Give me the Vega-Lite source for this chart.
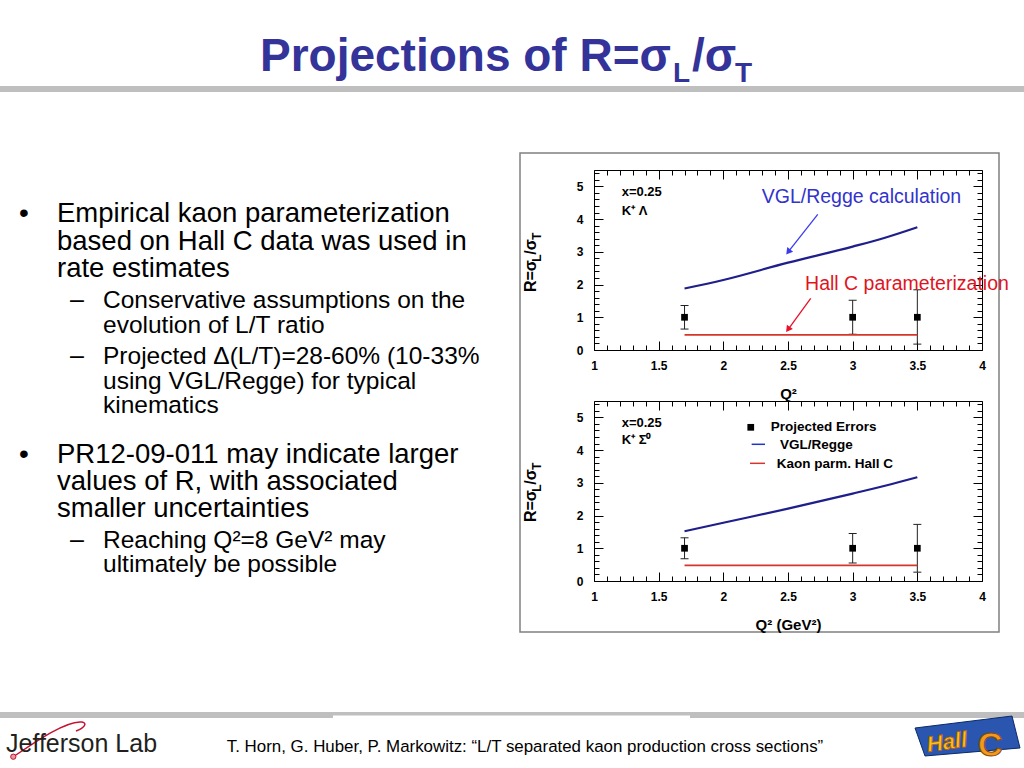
{
  "$schema": "https://vega.github.io/schema/vega-lite/v6.json",
  "padding": 0,
  "background": "white",
  "columns": 2,
  "align": "each",
  "bounds": "flush",
  "spacing": {"row": 51, "column": 0},
  "config": {
    "view": {"stroke": null},
    "text": {"font": "Liberation Sans"},
    "axis": {"labelFont": "Liberation Sans", "titleFont": "Liberation Sans"}
  },
  "datasets": {
    "pts1": [
      {"q2": 1.7, "r": 1, "lo": 0.64, "hi": 1.36},
      {"q2": 3.0, "r": 1, "lo": 0.48, "hi": 1.52},
      {"q2": 3.5, "r": 1, "lo": 0.18, "hi": 1.84}
    ],
    "vgl1": [
      {"q2": 1.7, "r": 1.88},
      {"q2": 2.0, "r": 2.14},
      {"q2": 2.5, "r": 2.67},
      {"q2": 3.0, "r": 3.16},
      {"q2": 3.25, "r": 3.43},
      {"q2": 3.5, "r": 3.75}
    ],
    "hc1": [
      {"q2": 1.7, "r": 0.46},
      {"q2": 3.5, "r": 0.46}
    ],
    "pts2": [
      {"q2": 1.7, "r": 1, "lo": 0.68, "hi": 1.32},
      {"q2": 3.0, "r": 1, "lo": 0.55, "hi": 1.45},
      {"q2": 3.5, "r": 1, "lo": 0.27, "hi": 1.73}
    ],
    "vgl2": [
      {"q2": 1.7, "r": 1.52},
      {"q2": 2.0, "r": 1.78},
      {"q2": 2.5, "r": 2.21},
      {"q2": 3.0, "r": 2.67},
      {"q2": 3.25, "r": 2.91},
      {"q2": 3.5, "r": 3.17}
    ],
    "hc2": [
      {"q2": 1.7, "r": 0.48},
      {"q2": 3.5, "r": 0.48}
    ]
  },
  "concat": [
    {
      "width": 594,
      "height": 180,
      "data": {"values": [{}]},
      "layer": [
        {"mark": {"type": "rect", "fill": "white"},
         "encoding": {"x": {"datum": 0, "type": "quantitative", "scale": {"domain": [0, 594], "nice": false, "zero": false}, "axis": null},
                      "x2": {"datum": 1024},
                      "y": {"datum": 0, "type": "quantitative", "scale": {"domain": [170, 350], "reverse": true, "nice": false, "zero": false}, "axis": null},
                      "y2": {"datum": 768}}},
        {"mark": {"type": "rect", "fill": "#bfbfbf"},
         "encoding": {"x": {"datum": 0, "type": "quantitative", "scale": {"domain": [0, 594], "nice": false, "zero": false}, "axis": null},
                      "x2": {"datum": 1024},
                      "y": {"datum": 86, "type": "quantitative", "scale": {"domain": [170, 350], "reverse": true, "nice": false, "zero": false}, "axis": null},
                      "y2": {"datum": 92}}},
        {"mark": {"type": "text", "text": "Projections of R=σ", "align": "right", "baseline": "alphabetic", "fontSize": 46, "fontWeight": "bold", "color": "#333399"},
         "encoding": {"x": {"datum": 671, "type": "quantitative", "scale": {"domain": [0, 594], "nice": false, "zero": false}, "axis": null},
                      "y": {"datum": 71, "type": "quantitative", "scale": {"domain": [170, 350], "reverse": true, "nice": false, "zero": false}, "axis": null}}},
        {"mark": {"type": "text", "text": "L", "align": "left", "baseline": "alphabetic", "fontSize": 28, "fontWeight": "bold", "color": "#333399"},
         "encoding": {"x": {"datum": 673, "type": "quantitative", "scale": {"domain": [0, 594], "nice": false, "zero": false}, "axis": null},
                      "y": {"datum": 82, "type": "quantitative", "scale": {"domain": [170, 350], "reverse": true, "nice": false, "zero": false}, "axis": null}}},
        {"mark": {"type": "text", "text": "/σ", "align": "left", "baseline": "alphabetic", "fontSize": 46, "fontWeight": "bold", "color": "#333399"},
         "encoding": {"x": {"datum": 692, "type": "quantitative", "scale": {"domain": [0, 594], "nice": false, "zero": false}, "axis": null},
                      "y": {"datum": 71, "type": "quantitative", "scale": {"domain": [170, 350], "reverse": true, "nice": false, "zero": false}, "axis": null}}},
        {"mark": {"type": "text", "text": "T", "align": "left", "baseline": "alphabetic", "fontSize": 28, "fontWeight": "bold", "color": "#333399"},
         "encoding": {"x": {"datum": 735, "type": "quantitative", "scale": {"domain": [0, 594], "nice": false, "zero": false}, "axis": null},
                      "y": {"datum": 82, "type": "quantitative", "scale": {"domain": [170, 350], "reverse": true, "nice": false, "zero": false}, "axis": null}}},
        {"mark": {"type": "text", "text": "•", "align": "left", "baseline": "alphabetic", "fontSize": 28, "color": "black"},
         "encoding": {"x": {"datum": 19, "type": "quantitative", "scale": {"domain": [0, 594], "nice": false, "zero": false}, "axis": null},
                      "y": {"datum": 222, "type": "quantitative", "scale": {"domain": [170, 350], "reverse": true, "nice": false, "zero": false}, "axis": null}}},
        {"mark": {"type": "text", "text": ["Empirical kaon parameterization", "based on Hall C data was used in", "rate estimates"], "align": "left", "baseline": "alphabetic", "fontSize": 27.5, "lineHeight": 27.5, "color": "black"},
         "encoding": {"x": {"datum": 57, "type": "quantitative", "scale": {"domain": [0, 594], "nice": false, "zero": false}, "axis": null},
                      "y": {"datum": 222, "type": "quantitative", "scale": {"domain": [170, 350], "reverse": true, "nice": false, "zero": false}, "axis": null}}},
        {"mark": {"type": "text", "text": "–", "align": "left", "baseline": "alphabetic", "fontSize": 25, "color": "black"},
         "encoding": {"x": {"datum": 70, "type": "quantitative", "scale": {"domain": [0, 594], "nice": false, "zero": false}, "axis": null},
                      "y": {"datum": 308, "type": "quantitative", "scale": {"domain": [170, 350], "reverse": true, "nice": false, "zero": false}, "axis": null}}},
        {"mark": {"type": "text", "text": ["Conservative assumptions on the", "evolution of L/T ratio"], "align": "left", "baseline": "alphabetic", "fontSize": 24.5, "lineHeight": 24.5, "color": "black"},
         "encoding": {"x": {"datum": 103, "type": "quantitative", "scale": {"domain": [0, 594], "nice": false, "zero": false}, "axis": null},
                      "y": {"datum": 308, "type": "quantitative", "scale": {"domain": [170, 350], "reverse": true, "nice": false, "zero": false}, "axis": null}}},
        {"mark": {"type": "text", "text": "–", "align": "left", "baseline": "alphabetic", "fontSize": 25, "color": "black"},
         "encoding": {"x": {"datum": 70, "type": "quantitative", "scale": {"domain": [0, 594], "nice": false, "zero": false}, "axis": null},
                      "y": {"datum": 364, "type": "quantitative", "scale": {"domain": [170, 350], "reverse": true, "nice": false, "zero": false}, "axis": null}}},
        {"mark": {"type": "text", "text": ["Projected Δ(L/T)=28-60% (10-33%", "using VGL/Regge) for typical", "kinematics"], "align": "left", "baseline": "alphabetic", "fontSize": 24.5, "lineHeight": 24.5, "color": "black"},
         "encoding": {"x": {"datum": 103, "type": "quantitative", "scale": {"domain": [0, 594], "nice": false, "zero": false}, "axis": null},
                      "y": {"datum": 364, "type": "quantitative", "scale": {"domain": [170, 350], "reverse": true, "nice": false, "zero": false}, "axis": null}}},
        {"mark": {"type": "text", "text": "•", "align": "left", "baseline": "alphabetic", "fontSize": 28, "color": "black"},
         "encoding": {"x": {"datum": 19, "type": "quantitative", "scale": {"domain": [0, 594], "nice": false, "zero": false}, "axis": null},
                      "y": {"datum": 463, "type": "quantitative", "scale": {"domain": [170, 350], "reverse": true, "nice": false, "zero": false}, "axis": null}}},
        {"mark": {"type": "text", "text": ["PR12-09-011 may indicate larger", "values of R, with associated", "smaller uncertainties"], "align": "left", "baseline": "alphabetic", "fontSize": 27.5, "lineHeight": 27, "color": "black"},
         "encoding": {"x": {"datum": 57, "type": "quantitative", "scale": {"domain": [0, 594], "nice": false, "zero": false}, "axis": null},
                      "y": {"datum": 463, "type": "quantitative", "scale": {"domain": [170, 350], "reverse": true, "nice": false, "zero": false}, "axis": null}}},
        {"mark": {"type": "text", "text": "–", "align": "left", "baseline": "alphabetic", "fontSize": 25, "color": "black"},
         "encoding": {"x": {"datum": 70, "type": "quantitative", "scale": {"domain": [0, 594], "nice": false, "zero": false}, "axis": null},
                      "y": {"datum": 548, "type": "quantitative", "scale": {"domain": [170, 350], "reverse": true, "nice": false, "zero": false}, "axis": null}}},
        {"mark": {"type": "text", "text": ["Reaching Q²=8 GeV² may", "ultimately be possible"], "align": "left", "baseline": "alphabetic", "fontSize": 24.5, "lineHeight": 24, "color": "black"},
         "encoding": {"x": {"datum": 103, "type": "quantitative", "scale": {"domain": [0, 594], "nice": false, "zero": false}, "axis": null},
                      "y": {"datum": 548, "type": "quantitative", "scale": {"domain": [170, 350], "reverse": true, "nice": false, "zero": false}, "axis": null}}},
        {"mark": {"type": "rect", "fillOpacity": 0, "stroke": "#808080", "strokeWidth": 1.5},
         "encoding": {"x": {"datum": 520, "type": "quantitative", "scale": {"domain": [0, 594], "nice": false, "zero": false}, "axis": null},
                      "x2": {"datum": 999},
                      "y": {"datum": 153, "type": "quantitative", "scale": {"domain": [170, 350], "reverse": true, "nice": false, "zero": false}, "axis": null},
                      "y2": {"datum": 632}}},
        {"mark": {"type": "rect", "fill": "#bfbfbf"},
         "encoding": {"x": {"datum": 0, "type": "quantitative", "scale": {"domain": [0, 594], "nice": false, "zero": false}, "axis": null},
                      "x2": {"datum": 1024},
                      "y": {"datum": 712, "type": "quantitative", "scale": {"domain": [170, 350], "reverse": true, "nice": false, "zero": false}, "axis": null},
                      "y2": {"datum": 718}}},
        {"mark": {"type": "rect", "fill": "white"},
         "encoding": {"x": {"datum": 333, "type": "quantitative", "scale": {"domain": [0, 594], "nice": false, "zero": false}, "axis": null},
                      "x2": {"datum": 690},
                      "y": {"datum": 715.5, "type": "quantitative", "scale": {"domain": [170, 350], "reverse": true, "nice": false, "zero": false}, "axis": null},
                      "y2": {"datum": 718.5}}},
        {"mark": {"type": "point", "shape": "M-0.875,0.425C-0.4,0.1,0.45,-0.5,0.85,-0.45C1,-0.42,0.9,-0.3,0.7,-0.225", "size": 6400, "filled": false, "color": "#c41230", "strokeWidth": 1.5, "opacity": 1},
         "encoding": {"x": {"datum": 48, "type": "quantitative", "scale": {"domain": [0, 594], "nice": false, "zero": false}, "axis": null},
                      "y": {"datum": 740, "type": "quantitative", "scale": {"domain": [170, 350], "reverse": true, "nice": false, "zero": false}, "axis": null}}},
        {"mark": {"type": "point", "shape": "circle", "size": 28, "filled": true, "color": "#e39a9a", "stroke": "#c41230", "strokeWidth": 1, "opacity": 1},
         "encoding": {"x": {"datum": 13.3, "type": "quantitative", "scale": {"domain": [0, 594], "nice": false, "zero": false}, "axis": null},
                      "y": {"datum": 756.7, "type": "quantitative", "scale": {"domain": [170, 350], "reverse": true, "nice": false, "zero": false}, "axis": null}}},
        {"mark": {"type": "text", "text": "Jefferson Lab", "align": "left", "baseline": "alphabetic", "fontSize": 25, "color": "#231f20"},
         "encoding": {"x": {"datum": 6, "type": "quantitative", "scale": {"domain": [0, 594], "nice": false, "zero": false}, "axis": null},
                      "y": {"datum": 752, "type": "quantitative", "scale": {"domain": [170, 350], "reverse": true, "nice": false, "zero": false}, "axis": null}}},
        {"mark": {"type": "text", "text": "T. Horn, G. Huber, P. Markowitz: “L/T separated kaon production cross sections”", "align": "center", "baseline": "alphabetic", "fontSize": 16.9, "color": "black"},
         "encoding": {"x": {"datum": 525, "type": "quantitative", "scale": {"domain": [0, 594], "nice": false, "zero": false}, "axis": null},
                      "y": {"datum": 752, "type": "quantitative", "scale": {"domain": [170, 350], "reverse": true, "nice": false, "zero": false}, "axis": null}}},
        {"mark": {"type": "point", "shape": "M-0.944,-0.185L0.852,-0.407L1,0.185L-0.759,0.333Z", "size": 11664, "filled": true, "color": "#2a56b0", "stroke": "#0c2a66", "strokeWidth": 1, "opacity": 1},
         "encoding": {"x": {"datum": 966, "type": "quantitative", "scale": {"domain": [0, 594], "nice": false, "zero": false}, "axis": null},
                      "y": {"datum": 738, "type": "quantitative", "scale": {"domain": [170, 350], "reverse": true, "nice": false, "zero": false}, "axis": null}}},
        {"mark": {"type": "text", "text": "Hall", "align": "left", "baseline": "alphabetic", "fontSize": 22, "fontWeight": "bold", "fontStyle": "italic", "angle": -8, "color": "#f8c21c", "stroke": "#b85c08", "strokeWidth": 0.8},
         "encoding": {"x": {"datum": 928, "type": "quantitative", "scale": {"domain": [0, 594], "nice": false, "zero": false}, "axis": null},
                      "y": {"datum": 752, "type": "quantitative", "scale": {"domain": [170, 350], "reverse": true, "nice": false, "zero": false}, "axis": null}}},
        {"mark": {"type": "text", "text": "C", "align": "left", "baseline": "alphabetic", "fontSize": 34, "fontWeight": "bold", "color": "#f39a1c", "stroke": "#8a4a06", "strokeWidth": 1},
         "encoding": {"x": {"datum": 978, "type": "quantitative", "scale": {"domain": [0, 594], "nice": false, "zero": false}, "axis": null},
                      "y": {"datum": 756, "type": "quantitative", "scale": {"domain": [170, 350], "reverse": true, "nice": false, "zero": false}, "axis": null}}}
      ]
    },
    {
      "width": 388,
      "height": 180,
      "view": {"stroke": "black", "strokeWidth": 1},
      "resolve": {"axis": {"x": "independent", "y": "independent"}},
      "layer": [
        {
          "layer": [
            {"data": {"name": "pts1"},
             "mark": {"type": "rule", "color": "#222222", "strokeWidth": 1},
             "encoding": {
               "x": {"field": "q2", "type": "quantitative", "scale": {"domain": [1, 4], "nice": false, "zero": false},
                     "axis": {"orient": "bottom", "tickCount": 200, "values": [1,1.1,1.2,1.3,1.4,1.5,1.6,1.7,1.8,1.9,2,2.1,2.2,2.3,2.4,2.5,2.6,2.7,2.8,2.9,3,3.1,3.2,3.3,3.4,3.5,3.6,3.7,3.8,3.9,4],
                              "labelExpr": "abs(datum.value*2-round(datum.value*2))<0.01 ? format(datum.value,'.1~f') : ''",
                              "tickSize": {"condition": {"test": "abs(datum.value*2-round(datum.value*2))<0.01", "value": -9}, "value": -5},
                              "tickColor": "black", "tickWidth": 1, "labelPadding": 19, "labelFlush": false, "labelOverlap": false, "labelBound": false,
                              "labelFontSize": 12, "labelFontWeight": "bold", "labelColor": "black", "domain": false, "grid": false,
                              "title": "Q²", "titleFontSize": 15, "titleFontWeight": "bold", "titleColor": "black", "titlePadding": 11}},
               "y": {"field": "lo", "type": "quantitative", "scale": {"domain": [0, 5.5], "nice": false, "zero": false},
                     "axis": {"orient": "left", "tickCount": 200, "values": [0,0.2,0.4,0.6,0.8,1,1.2,1.4,1.6,1.8,2,2.2,2.4,2.6,2.8,3,3.2,3.4,3.6,3.8,4,4.2,4.4,4.6,4.8,5,5.2,5.4],
                              "labelExpr": "abs(datum.value-round(datum.value))<0.01 ? format(datum.value,'d') : ''",
                              "tickSize": {"condition": {"test": "abs(datum.value-round(datum.value))<0.01", "value": -9}, "value": -5},
                              "tickColor": "black", "tickWidth": 1, "labelPadding": 20, "labelFlush": false, "labelOverlap": false, "labelBound": false,
                              "labelFontSize": 12, "labelFontWeight": "bold", "labelColor": "black", "domain": false, "grid": false, "title": null}},
               "y2": {"field": "hi"}}},
            {"data": {"name": "pts1"},
             "mark": {"type": "tick", "orient": "horizontal", "size": 8, "thickness": 1, "color": "#222222", "opacity": 1},
             "encoding": {"x": {"field": "q2", "type": "quantitative", "scale": {"domain": [1, 4], "nice": false, "zero": false}},
                          "y": {"field": "lo", "type": "quantitative", "scale": {"domain": [0, 5.5], "nice": false, "zero": false}}}},
            {"data": {"name": "pts1"},
             "mark": {"type": "tick", "orient": "horizontal", "size": 8, "thickness": 1, "color": "#222222", "opacity": 1},
             "encoding": {"x": {"field": "q2", "type": "quantitative", "scale": {"domain": [1, 4], "nice": false, "zero": false}},
                          "y": {"field": "hi", "type": "quantitative", "scale": {"domain": [0, 5.5], "nice": false, "zero": false}}}},
            {"data": {"name": "hc1"},
             "mark": {"type": "line", "color": "#d8352a", "strokeWidth": 1.8},
             "encoding": {"x": {"field": "q2", "type": "quantitative", "scale": {"domain": [1, 4], "nice": false, "zero": false}},
                          "y": {"field": "r", "type": "quantitative", "scale": {"domain": [0, 5.5], "nice": false, "zero": false}}}},
            {"data": {"name": "vgl1"},
             "mark": {"type": "line", "color": "#1e1e8c", "strokeWidth": 2.2, "interpolate": "monotone"},
             "encoding": {"x": {"field": "q2", "type": "quantitative", "scale": {"domain": [1, 4], "nice": false, "zero": false}},
                          "y": {"field": "r", "type": "quantitative", "scale": {"domain": [0, 5.5], "nice": false, "zero": false}}}},
            {"data": {"name": "pts1"},
             "mark": {"type": "point", "shape": "square", "filled": true, "color": "black", "size": 45, "opacity": 1},
             "encoding": {"x": {"field": "q2", "type": "quantitative", "scale": {"domain": [1, 4], "nice": false, "zero": false}},
                          "y": {"field": "r", "type": "quantitative", "scale": {"domain": [0, 5.5], "nice": false, "zero": false}}}},
            {"data": {"values": [{}]},
             "mark": {"type": "text", "text": "x=0.25", "align": "left", "baseline": "middle", "fontSize": 13, "fontWeight": "bold", "color": "black"},
             "encoding": {"x": {"datum": 1.214, "type": "quantitative", "scale": {"domain": [1, 4], "nice": false, "zero": false}},
                          "y": {"datum": 4.84, "type": "quantitative", "scale": {"domain": [0, 5.5], "nice": false, "zero": false}}}},
            {"data": {"values": [{}]},
             "mark": {"type": "text", "text": "K⁺ Λ", "align": "left", "baseline": "middle", "fontSize": 13, "fontWeight": "bold", "color": "black"},
             "encoding": {"x": {"datum": 1.214, "type": "quantitative", "scale": {"domain": [1, 4], "nice": false, "zero": false}},
                          "y": {"datum": 4.25, "type": "quantitative", "scale": {"domain": [0, 5.5], "nice": false, "zero": false}}}},
            {"data": {"values": [{}]},
             "mark": {"type": "text", "text": "VGL/Regge calculation", "align": "left", "baseline": "middle", "fontSize": 19.5, "color": "#3333cc"},
             "encoding": {"x": {"datum": 2.297, "type": "quantitative", "scale": {"domain": [1, 4], "nice": false, "zero": false}},
                          "y": {"datum": 4.67, "type": "quantitative", "scale": {"domain": [0, 5.5], "nice": false, "zero": false}}}},
            {"data": {"values": [{}]},
             "mark": {"type": "text", "text": "Hall C parameterization", "align": "left", "baseline": "middle", "fontSize": 19.5, "color": "#e0141e"},
             "encoding": {"x": {"datum": 2.632, "type": "quantitative", "scale": {"domain": [1, 4], "nice": false, "zero": false}},
                          "y": {"datum": 2.02, "type": "quantitative", "scale": {"domain": [0, 5.5], "nice": false, "zero": false}}}},
            {"data": {"values": [{}]},
             "mark": {"type": "rule", "color": "#3b3bf0", "strokeWidth": 1.3},
             "encoding": {"x": {"datum": 2.73, "type": "quantitative", "scale": {"domain": [1, 4], "nice": false, "zero": false}},
                          "y": {"datum": 4.146, "type": "quantitative", "scale": {"domain": [0, 5.5], "nice": false, "zero": false}},
                          "x2": {"datum": 2.5016}, "y2": {"datum": 2.997}}},
            {"data": {"values": [{}]},
             "mark": {"type": "point", "shape": "triangle-up", "filled": true, "color": "#3b3bf0", "size": 55, "angle": 218, "opacity": 1},
             "encoding": {"x": {"datum": 2.5016, "type": "quantitative", "scale": {"domain": [1, 4], "nice": false, "zero": false}},
                          "y": {"datum": 2.997, "type": "quantitative", "scale": {"domain": [0, 5.5], "nice": false, "zero": false}}}},
            {"data": {"values": [{}]},
             "mark": {"type": "rule", "color": "#e8102a", "strokeWidth": 1.3},
             "encoding": {"x": {"datum": 2.6756, "type": "quantitative", "scale": {"domain": [1, 4], "nice": false, "zero": false}},
                          "y": {"datum": 1.58, "type": "quantitative", "scale": {"domain": [0, 5.5], "nice": false, "zero": false}},
                          "x2": {"datum": 2.5}, "y2": {"datum": 0.626}}},
            {"data": {"values": [{}]},
             "mark": {"type": "point", "shape": "triangle-up", "filled": true, "color": "#e8102a", "size": 55, "angle": 216, "opacity": 1},
             "encoding": {"x": {"datum": 2.5, "type": "quantitative", "scale": {"domain": [1, 4], "nice": false, "zero": false}},
                          "y": {"datum": 0.626, "type": "quantitative", "scale": {"domain": [0, 5.5], "nice": false, "zero": false}}}},
            {"data": {"values": [{}]},
             "mark": {"type": "text", "text": "R=σ", "angle": 270, "align": "left", "baseline": "middle", "fontSize": 16, "fontWeight": "bold", "color": "black"},
             "encoding": {"x": {"datum": 0.513, "type": "quantitative", "scale": {"domain": [1, 4], "nice": false, "zero": false}},
                          "y": {"datum": 1.77, "type": "quantitative", "scale": {"domain": [0, 5.5], "nice": false, "zero": false}}}},
            {"data": {"values": [{}]},
             "mark": {"type": "text", "text": "L", "angle": 270, "align": "left", "baseline": "middle", "fontSize": 12, "fontWeight": "bold", "color": "black"},
             "encoding": {"x": {"datum": 0.56, "type": "quantitative", "scale": {"domain": [1, 4], "nice": false, "zero": false}},
                          "y": {"datum": 2.7, "type": "quantitative", "scale": {"domain": [0, 5.5], "nice": false, "zero": false}}}},
            {"data": {"values": [{}]},
             "mark": {"type": "text", "text": "/σ", "angle": 270, "align": "left", "baseline": "middle", "fontSize": 16, "fontWeight": "bold", "color": "black"},
             "encoding": {"x": {"datum": 0.513, "type": "quantitative", "scale": {"domain": [1, 4], "nice": false, "zero": false}},
                          "y": {"datum": 2.91, "type": "quantitative", "scale": {"domain": [0, 5.5], "nice": false, "zero": false}}}},
            {"data": {"values": [{}]},
             "mark": {"type": "text", "text": "T", "angle": 270, "align": "left", "baseline": "middle", "fontSize": 12, "fontWeight": "bold", "color": "black"},
             "encoding": {"x": {"datum": 0.56, "type": "quantitative", "scale": {"domain": [1, 4], "nice": false, "zero": false}},
                          "y": {"datum": 3.36, "type": "quantitative", "scale": {"domain": [0, 5.5], "nice": false, "zero": false}}}}
          ]
        },
        {"data": {"name": "pts1"},
         "mark": {"type": "point", "opacity": 0},
         "encoding": {
           "x": {"field": "q2", "type": "quantitative", "scale": {"domain": [1, 4], "nice": false, "zero": false},
                 "axis": {"orient": "top", "tickCount": 200, "values": [1,1.1,1.2,1.3,1.4,1.5,1.6,1.7,1.8,1.9,2,2.1,2.2,2.3,2.4,2.5,2.6,2.7,2.8,2.9,3,3.1,3.2,3.3,3.4,3.5,3.6,3.7,3.8,3.9,4],
                          "labels": false, "tickSize": {"condition": {"test": "abs(datum.value*2-round(datum.value*2))<0.01", "value": -9}, "value": -5},
                          "tickColor": "black", "tickWidth": 1, "domain": false, "grid": false, "title": null}},
           "y": {"field": "r", "type": "quantitative", "scale": {"domain": [0, 5.5], "nice": false, "zero": false},
                 "axis": {"orient": "right", "tickCount": 200, "values": [0,0.2,0.4,0.6,0.8,1,1.2,1.4,1.6,1.8,2,2.2,2.4,2.6,2.8,3,3.2,3.4,3.6,3.8,4,4.2,4.4,4.6,4.8,5,5.2,5.4],
                          "labels": false, "tickSize": {"condition": {"test": "abs(datum.value-round(datum.value))<0.01", "value": -9}, "value": -5},
                          "tickColor": "black", "tickWidth": 1, "domain": false, "grid": false, "title": null}}}}
      ]
    },
    {
      "width": 594,
      "height": 180,
      "data": {"values": []},
      "mark": "point"
    },
    {
      "width": 388,
      "height": 180,
      "view": {"stroke": "black", "strokeWidth": 1},
      "resolve": {"axis": {"x": "independent", "y": "independent"}},
      "layer": [
        {
          "layer": [
            {"data": {"name": "pts2"},
             "mark": {"type": "rule", "color": "#222222", "strokeWidth": 1},
             "encoding": {
               "x": {"field": "q2", "type": "quantitative", "scale": {"domain": [1, 4], "nice": false, "zero": false},
                     "axis": {"orient": "bottom", "tickCount": 200, "values": [1,1.1,1.2,1.3,1.4,1.5,1.6,1.7,1.8,1.9,2,2.1,2.2,2.3,2.4,2.5,2.6,2.7,2.8,2.9,3,3.1,3.2,3.3,3.4,3.5,3.6,3.7,3.8,3.9,4],
                              "labelExpr": "abs(datum.value*2-round(datum.value*2))<0.01 ? format(datum.value,'.1~f') : ''",
                              "tickSize": {"condition": {"test": "abs(datum.value*2-round(datum.value*2))<0.01", "value": -9}, "value": -5},
                              "tickColor": "black", "tickWidth": 1, "labelPadding": 19, "labelFlush": false, "labelOverlap": false, "labelBound": false,
                              "labelFontSize": 12, "labelFontWeight": "bold", "labelColor": "black", "domain": false, "grid": false,
                              "title": "Q² (GeV²)", "titleFontSize": 15, "titleFontWeight": "bold", "titleColor": "black", "titlePadding": 11}},
               "y": {"field": "lo", "type": "quantitative", "scale": {"domain": [0, 5.5], "nice": false, "zero": false},
                     "axis": {"orient": "left", "tickCount": 200, "values": [0,0.2,0.4,0.6,0.8,1,1.2,1.4,1.6,1.8,2,2.2,2.4,2.6,2.8,3,3.2,3.4,3.6,3.8,4,4.2,4.4,4.6,4.8,5,5.2,5.4],
                              "labelExpr": "abs(datum.value-round(datum.value))<0.01 ? format(datum.value,'d') : ''",
                              "tickSize": {"condition": {"test": "abs(datum.value-round(datum.value))<0.01", "value": -9}, "value": -5},
                              "tickColor": "black", "tickWidth": 1, "labelPadding": 20, "labelFlush": false, "labelOverlap": false, "labelBound": false,
                              "labelFontSize": 12, "labelFontWeight": "bold", "labelColor": "black", "domain": false, "grid": false, "title": null}},
               "y2": {"field": "hi"}}},
            {"data": {"name": "pts2"},
             "mark": {"type": "tick", "orient": "horizontal", "size": 8, "thickness": 1, "color": "#222222", "opacity": 1},
             "encoding": {"x": {"field": "q2", "type": "quantitative", "scale": {"domain": [1, 4], "nice": false, "zero": false}},
                          "y": {"field": "lo", "type": "quantitative", "scale": {"domain": [0, 5.5], "nice": false, "zero": false}}}},
            {"data": {"name": "pts2"},
             "mark": {"type": "tick", "orient": "horizontal", "size": 8, "thickness": 1, "color": "#222222", "opacity": 1},
             "encoding": {"x": {"field": "q2", "type": "quantitative", "scale": {"domain": [1, 4], "nice": false, "zero": false}},
                          "y": {"field": "hi", "type": "quantitative", "scale": {"domain": [0, 5.5], "nice": false, "zero": false}}}},
            {"data": {"name": "hc2"},
             "mark": {"type": "line", "color": "#d8352a", "strokeWidth": 1.8},
             "encoding": {"x": {"field": "q2", "type": "quantitative", "scale": {"domain": [1, 4], "nice": false, "zero": false}},
                          "y": {"field": "r", "type": "quantitative", "scale": {"domain": [0, 5.5], "nice": false, "zero": false}}}},
            {"data": {"name": "vgl2"},
             "mark": {"type": "line", "color": "#1e1e8c", "strokeWidth": 2.2, "interpolate": "monotone"},
             "encoding": {"x": {"field": "q2", "type": "quantitative", "scale": {"domain": [1, 4], "nice": false, "zero": false}},
                          "y": {"field": "r", "type": "quantitative", "scale": {"domain": [0, 5.5], "nice": false, "zero": false}}}},
            {"data": {"name": "pts2"},
             "mark": {"type": "point", "shape": "square", "filled": true, "color": "black", "size": 45, "opacity": 1},
             "encoding": {"x": {"field": "q2", "type": "quantitative", "scale": {"domain": [1, 4], "nice": false, "zero": false}},
                          "y": {"field": "r", "type": "quantitative", "scale": {"domain": [0, 5.5], "nice": false, "zero": false}}}},
            {"data": {"values": [{}]},
             "mark": {"type": "text", "text": "x=0.25", "align": "left", "baseline": "middle", "fontSize": 13, "fontWeight": "bold", "color": "black"},
             "encoding": {"x": {"datum": 1.214, "type": "quantitative", "scale": {"domain": [1, 4], "nice": false, "zero": false}},
                          "y": {"datum": 4.82, "type": "quantitative", "scale": {"domain": [0, 5.5], "nice": false, "zero": false}}}},
            {"data": {"values": [{}]},
             "mark": {"type": "text", "text": "K⁺ Σ⁰", "align": "left", "baseline": "middle", "fontSize": 13, "fontWeight": "bold", "color": "black"},
             "encoding": {"x": {"datum": 1.214, "type": "quantitative", "scale": {"domain": [1, 4], "nice": false, "zero": false}},
                          "y": {"datum": 4.31, "type": "quantitative", "scale": {"domain": [0, 5.5], "nice": false, "zero": false}}}},
            {"data": {"values": [{}]},
             "mark": {"type": "point", "shape": "square", "filled": true, "color": "black", "size": 45, "opacity": 1},
             "encoding": {"x": {"datum": 2.212, "type": "quantitative", "scale": {"domain": [1, 4], "nice": false, "zero": false}},
                          "y": {"datum": 4.696, "type": "quantitative", "scale": {"domain": [0, 5.5], "nice": false, "zero": false}}}},
            {"data": {"values": [{}]},
             "mark": {"type": "text", "text": "Projected Errors", "align": "left", "baseline": "middle", "fontSize": 13.5, "fontWeight": "bold", "color": "black"},
             "encoding": {"x": {"datum": 2.367, "type": "quantitative", "scale": {"domain": [1, 4], "nice": false, "zero": false}},
                          "y": {"datum": 4.696, "type": "quantitative", "scale": {"domain": [0, 5.5], "nice": false, "zero": false}}}},
            {"data": {"values": [{}]},
             "mark": {"type": "rule", "color": "#2233cc", "strokeWidth": 1.5},
             "encoding": {"x": {"datum": 2.219, "type": "quantitative", "scale": {"domain": [1, 4], "nice": false, "zero": false}},
                          "x2": {"datum": 2.322},
                          "y": {"datum": 4.177, "type": "quantitative", "scale": {"domain": [0, 5.5], "nice": false, "zero": false}}}},
            {"data": {"values": [{}]},
             "mark": {"type": "text", "text": "VGL/Regge", "align": "left", "baseline": "middle", "fontSize": 13.5, "fontWeight": "bold", "color": "black"},
             "encoding": {"x": {"datum": 2.438, "type": "quantitative", "scale": {"domain": [1, 4], "nice": false, "zero": false}},
                          "y": {"datum": 4.16, "type": "quantitative", "scale": {"domain": [0, 5.5], "nice": false, "zero": false}}}},
            {"data": {"values": [{}]},
             "mark": {"type": "rule", "color": "#d8352a", "strokeWidth": 1.5},
             "encoding": {"x": {"datum": 2.206, "type": "quantitative", "scale": {"domain": [1, 4], "nice": false, "zero": false}},
                          "x2": {"datum": 2.322},
                          "y": {"datum": 3.596, "type": "quantitative", "scale": {"domain": [0, 5.5], "nice": false, "zero": false}}}},
            {"data": {"values": [{}]},
             "mark": {"type": "text", "text": "Kaon parm. Hall C", "align": "left", "baseline": "middle", "fontSize": 13.5, "fontWeight": "bold", "color": "black"},
             "encoding": {"x": {"datum": 2.413, "type": "quantitative", "scale": {"domain": [1, 4], "nice": false, "zero": false}},
                          "y": {"datum": 3.57, "type": "quantitative", "scale": {"domain": [0, 5.5], "nice": false, "zero": false}}}},
            {"data": {"values": [{}]},
             "mark": {"type": "text", "text": "R=σ", "angle": 270, "align": "left", "baseline": "middle", "fontSize": 16, "fontWeight": "bold", "color": "black"},
             "encoding": {"x": {"datum": 0.513, "type": "quantitative", "scale": {"domain": [1, 4], "nice": false, "zero": false}},
                          "y": {"datum": 1.8, "type": "quantitative", "scale": {"domain": [0, 5.5], "nice": false, "zero": false}}}},
            {"data": {"values": [{}]},
             "mark": {"type": "text", "text": "L", "angle": 270, "align": "left", "baseline": "middle", "fontSize": 12, "fontWeight": "bold", "color": "black"},
             "encoding": {"x": {"datum": 0.56, "type": "quantitative", "scale": {"domain": [1, 4], "nice": false, "zero": false}},
                          "y": {"datum": 2.73, "type": "quantitative", "scale": {"domain": [0, 5.5], "nice": false, "zero": false}}}},
            {"data": {"values": [{}]},
             "mark": {"type": "text", "text": "/σ", "angle": 270, "align": "left", "baseline": "middle", "fontSize": 16, "fontWeight": "bold", "color": "black"},
             "encoding": {"x": {"datum": 0.513, "type": "quantitative", "scale": {"domain": [1, 4], "nice": false, "zero": false}},
                          "y": {"datum": 2.94, "type": "quantitative", "scale": {"domain": [0, 5.5], "nice": false, "zero": false}}}},
            {"data": {"values": [{}]},
             "mark": {"type": "text", "text": "T", "angle": 270, "align": "left", "baseline": "middle", "fontSize": 12, "fontWeight": "bold", "color": "black"},
             "encoding": {"x": {"datum": 0.56, "type": "quantitative", "scale": {"domain": [1, 4], "nice": false, "zero": false}},
                          "y": {"datum": 3.39, "type": "quantitative", "scale": {"domain": [0, 5.5], "nice": false, "zero": false}}}}
          ]
        },
        {"data": {"name": "pts2"},
         "mark": {"type": "point", "opacity": 0},
         "encoding": {
           "x": {"field": "q2", "type": "quantitative", "scale": {"domain": [1, 4], "nice": false, "zero": false},
                 "axis": {"orient": "top", "tickCount": 200, "values": [1,1.1,1.2,1.3,1.4,1.5,1.6,1.7,1.8,1.9,2,2.1,2.2,2.3,2.4,2.5,2.6,2.7,2.8,2.9,3,3.1,3.2,3.3,3.4,3.5,3.6,3.7,3.8,3.9,4],
                          "labels": false, "tickSize": {"condition": {"test": "abs(datum.value*2-round(datum.value*2))<0.01", "value": -9}, "value": -5},
                          "tickColor": "black", "tickWidth": 1, "domain": false, "grid": false, "title": null}},
           "y": {"field": "r", "type": "quantitative", "scale": {"domain": [0, 5.5], "nice": false, "zero": false},
                 "axis": {"orient": "right", "tickCount": 200, "values": [0,0.2,0.4,0.6,0.8,1,1.2,1.4,1.6,1.8,2,2.2,2.4,2.6,2.8,3,3.2,3.4,3.6,3.8,4,4.2,4.4,4.6,4.8,5,5.2,5.4],
                          "labels": false, "tickSize": {"condition": {"test": "abs(datum.value-round(datum.value))<0.01", "value": -9}, "value": -5},
                          "tickColor": "black", "tickWidth": 1, "domain": false, "grid": false, "title": null}}}}
      ]
    }
  ]
}
